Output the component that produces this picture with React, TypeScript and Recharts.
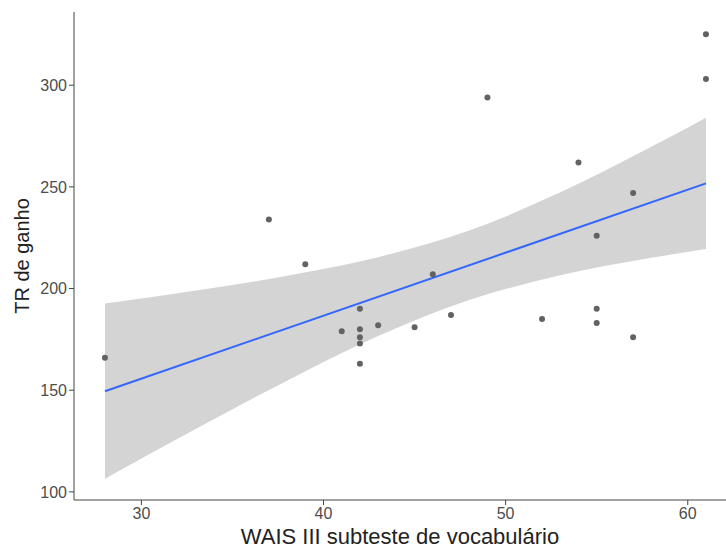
import { ComposedChart, Area, Line, Scatter, XAxis, YAxis } from 'recharts';

// observed points (vocabulary score, gain RT)
const vocab = [37, 49, 61, 61, 54, 57, 55, 39, 28, 41, 42, 42, 42, 42, 42, 43, 45, 47, 52, 55, 55, 57, 46];
const trGanho = [234, 294, 325, 303, 262, 247, 226, 212, 166, 179, 190, 180, 176, 173, 163, 182, 181, 187, 185, 190, 183, 176, 207];

// confidence band
const bandX = [28, 33, 38, 43, 48, 53, 58, 61];
const bandLow = [106.4, 131.0, 154.7, 176.6, 194.3, 206.5, 215.1, 219.4];
const bandHigh = [192.6, 199.0, 206.3, 215.4, 228.5, 247.3, 269.7, 284.0];

// fitted line ends
const fitX = [28, 61];
const fitY = [149.5, 251.7];

const xTicks = [30, 40, 50, 60];
const yTicks = [100, 150, 200, 250, 300];

const points = vocab.map((x, i) => ({ x, y: trGanho[i] }));
const band = bandX.map((x, i) => ({ x, band: [bandLow[i], bandHigh[i]] }));
const fit = fitX.map((x, i) => ({ x, fit: fitY[i] }));

const FONT = '"Liberation Sans", Arial, sans-serif';

const YTitle = (props: any) => {
  const vb = props.viewBox || { y: 12, height: 488 };
  const cy = vb.y + vb.height / 2;
  return (
    <text x={22} y={cy} transform={`rotate(-90, 22, ${cy})`} textAnchor="middle" dominantBaseline="central"
      fontSize={20} fill="#222" fontFamily={FONT}>
      TR de ganho
    </text>
  );
};

const XTitle = (props: any) => {
  const vb = props.viewBox || { x: 74, width: 652 };
  const cx = vb.x + vb.width / 2;
  return (
    <text x={cx} y={536} textAnchor="middle" dominantBaseline="central" fontSize={22} fill="#222" fontFamily={FONT}>
      WAIS III subteste de vocabulário
    </text>
  );
};

const Dot = (props: any) => <circle cx={props.cx} cy={props.cy} r={3} fill="#626262" />;

export default function App() {
  return (
    <div style={{ position: 'absolute', left: 0, top: 0, width: 726, height: 550, overflow: 'hidden', background: '#fff' }}>
      <ComposedChart width={726} height={550} data={band} margin={{ top: 12, right: 0, bottom: 0, left: 0 }}>
        <XAxis
          type="number"
          dataKey="x"
          domain={[26.3, 62.1]}
          ticks={xTicks}
          allowDataOverflow
          height={50}
          stroke="#444"
          tickSize={5}
          tick={{ fontSize: 16, fill: '#4d4d4d', fontFamily: FONT, dy: 1 }}
          label={<XTitle />}
        />
        <YAxis
          type="number"
          domain={[96, 336]}
          ticks={yTicks}
          allowDataOverflow
          width={74}
          stroke="#444"
          tickSize={5}
          tick={{ fontSize: 16, fill: '#4d4d4d', fontFamily: FONT }}
          label={<YTitle />}
        />
        <Area
          dataKey="band"
          type="monotone"
          stroke="none"
          fill="#d4d4d4"
          fillOpacity={1}
          isAnimationActive={false}
        />
        <Line
          data={fit}
          dataKey="fit"
          type="linear"
          stroke="#3366ff"
          strokeWidth={2}
          dot={false}
          activeDot={false}
          isAnimationActive={false}
        />
        <Scatter data={points} dataKey="y" shape={<Dot />} isAnimationActive={false} />
      </ComposedChart>
    </div>
  );
}
